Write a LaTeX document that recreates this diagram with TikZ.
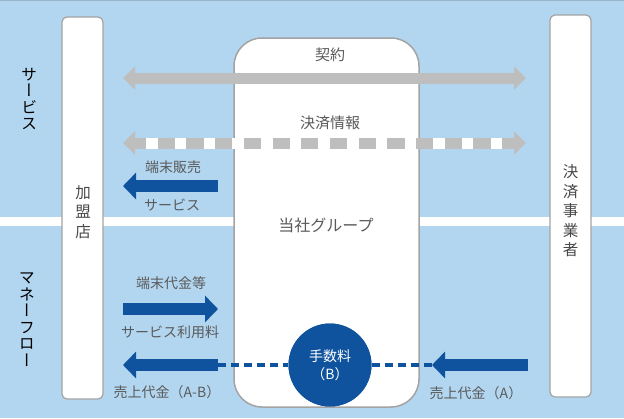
\documentclass[tikz,border=0pt]{standalone}
\usepackage{fontspec}
\setmainfont{Noto Sans CJK JP}
\newfontfamily\tate[RawFeature=+vert]{Noto Sans CJK JP}
\usetikzlibrary{arrows.meta}

\definecolor{bgblue}{HTML}{B2D6F0}
\definecolor{arrgray}{HTML}{BEBEBE}
\definecolor{darkblue}{HTML}{0F529E}
\definecolor{txtgray}{HTML}{5A5A5A}
\definecolor{edgegray}{HTML}{A3A3A3}

\tikzset{
  gtip/.tip={Triangle[length=12pt 0 0,width=23pt 0 0]},
  btip/.tip={Triangle[length=13pt 0 0,width=26pt 0 0]},
  pillar/.style={draw=edgegray, line width=1.2pt, fill=white, rounded corners=5pt},
  grayarrow/.style={arrgray, line width=11pt},
  bluearrow/.style={darkblue, line width=12pt, -btip},
  bluedash/.style={darkblue, line width=4pt, dash pattern=on 8pt off 5pt},
  label/.style={text=txtgray, font=\fontsize{14}{16}\selectfont, inner sep=0pt},
  vlabel/.style={font=\tate\fontsize{16}{16.5}\selectfont, align=center, inner sep=0pt},
  plabel/.style={text=txtgray!80!black, font=\tate\fontsize{15.5}{19.5}\selectfont, align=center, inner sep=0pt}
}

\begin{document}
\begin{tikzpicture}[x=1pt,y=-1pt]
\useasboundingbox (0,0) rectangle (624,418);
\fill[bgblue] (0,0) rectangle (624,418);
\draw[bgblue!85!black, line width=1pt] (0,0.5) -- (624,0.5);
\fill[white] (0,217) rectangle (624,226);

\draw[pillar] (62,17) rectangle (103,399);
\draw[pillar] (550,15) rectangle (591,397);
\draw[draw=edgegray, line width=1.5pt, fill=white, rounded corners=28pt] (234,38) rectangle (419,407);

\node[vlabel] (service) at (29,99) {サ\\ー\\ビ\\ス};
\node[vlabel] (money) at (27,319.5) {マ\\ネ\\ー\\フ\\ロ\\ー};
\node[plabel] (shop) at (83,212) {加\\盟\\店};
\node[plabel] (payco) at (570.5,211) {決\\済\\事\\業\\者};
\node[text=txtgray, font=\fontsize{16}{18}\selectfont, inner sep=0pt] (group) at (326,225) {当社グループ};

\coordinate (ctL) at (123,78);
\coordinate (ctR) at (526,78);
\coordinate (piL) at (123,143);
\coordinate (piR) at (526,143);
\draw[grayarrow, gtip-gtip] (ctL) -- (ctR);
\draw[white, line width=11pt] (135,143) -- (515,143);
\draw[grayarrow, gtip-gtip, dash pattern=on 17.2pt off 11.5pt, dash phase=5.2pt] (piL) -- (piR);
\node[label, font=\fontsize{15}{17}\selectfont] (contract) at (330,55) {契約};
\node[label, font=\fontsize{15}{17}\selectfont] (payinfo) at (330,123) {決済情報};

\coordinate (svTail) at (218,186);
\coordinate (svTip) at (123,186);
\draw[bluearrow] (svTail) -- (svTip);
\node[label] (termsale) at (173,167) {端末販売};
\node[label] (svc) at (172,205) {サービス};

\coordinate (fdTail) at (123,309);
\coordinate (fdTip) at (218,309);
\draw[bluearrow] (fdTail) -- (fdTip);
\node[label] (termfee) at (171,283) {端末代金等};
\node[label] (usefee) at (170,332) {サービス利用料};

\coordinate (abTail) at (218,365);
\coordinate (abTip) at (123,365);
\coordinate (aTail) at (528,365);
\coordinate (aTip) at (432,365);
\node[circle, fill=darkblue, minimum size=83pt, inner sep=0pt] (fee) at (330,365) {};
\draw[bluedash] (abTail) -- (fee);
\draw[bluedash] (fee) -- (aTip);
\node[circle, fill=darkblue, minimum size=83pt, inner sep=0pt, text=white, align=center, font=\fontsize{14}{18}\selectfont] at (fee) {手数料\\（B）};
\draw[bluearrow] (abTail) -- (abTip);
\draw[bluearrow] (aTail) -- (aTip);
\node[label] (salesAB) at (167,392) {売上代金（A-B）};
\node[label] (salesA) at (476,393) {売上代金（A）};
\end{tikzpicture}
\end{document}
